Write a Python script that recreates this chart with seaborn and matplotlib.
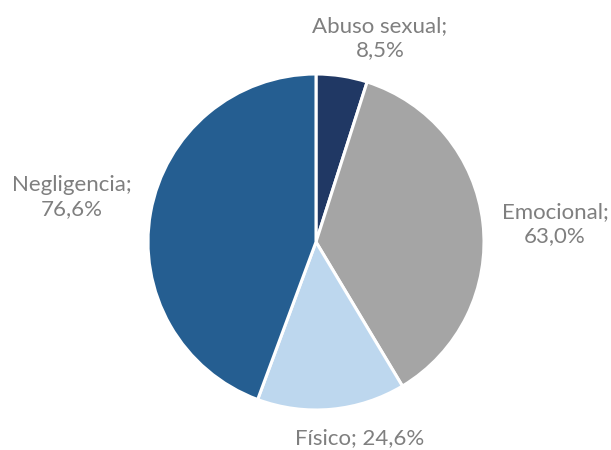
import matplotlib
matplotlib.use("Agg")
import matplotlib.pyplot as plt
import seaborn as sns

categories = ["Abuso sexual", "Emocional", "Físico", "Negligencia"]
values = [8.5, 63.0, 24.6, 76.6]
value_labels = ["8,5%", "63,0%", "24,6%", "76,6%"]
colors = ["#203864", "#a5a5a5", "#bdd7ee", "#255e91"]

sns.set_theme(style="white")
plt.rcParams['font.family'] = ['Lato', 'DejaVu Sans']

fig = plt.figure(figsize=(6.11, 4.5), dpi=100)
cx, cy, r = 316, 242, 168
ax = fig.add_axes([(cx - r) / 611, (450 - cy - r) / 450, 2 * r / 611, 2 * r / 450])
ax.pie(values, colors=colors, startangle=90, counterclock=False,
       wedgeprops=dict(edgecolor="white", linewidth=2.2))
ax.set_xlim(-1, 1)
ax.set_ylim(-1, 1)
ax.set_aspect("equal")
ax.axis("off")

label_pos = {
    "Abuso sexual": ((380, 38), "{};\n{}"),
    "Emocional": ((555, 224), "{};\n{}"),
    "Físico": ((360, 438), "{}; {}"),
    "Negligencia": ((72, 197), "{};\n{}"),
}
for cat, val in zip(categories, value_labels):
    (px, py), fmt = label_pos[cat]
    ax.text((px - cx) / r, (cy - py) / r, fmt.format(cat, val),
            ha="center", va="center", fontsize=16, color="#7f7f7f",
            linespacing=1.3, clip_on=False)

fig.savefig("out.png", dpi=100)
